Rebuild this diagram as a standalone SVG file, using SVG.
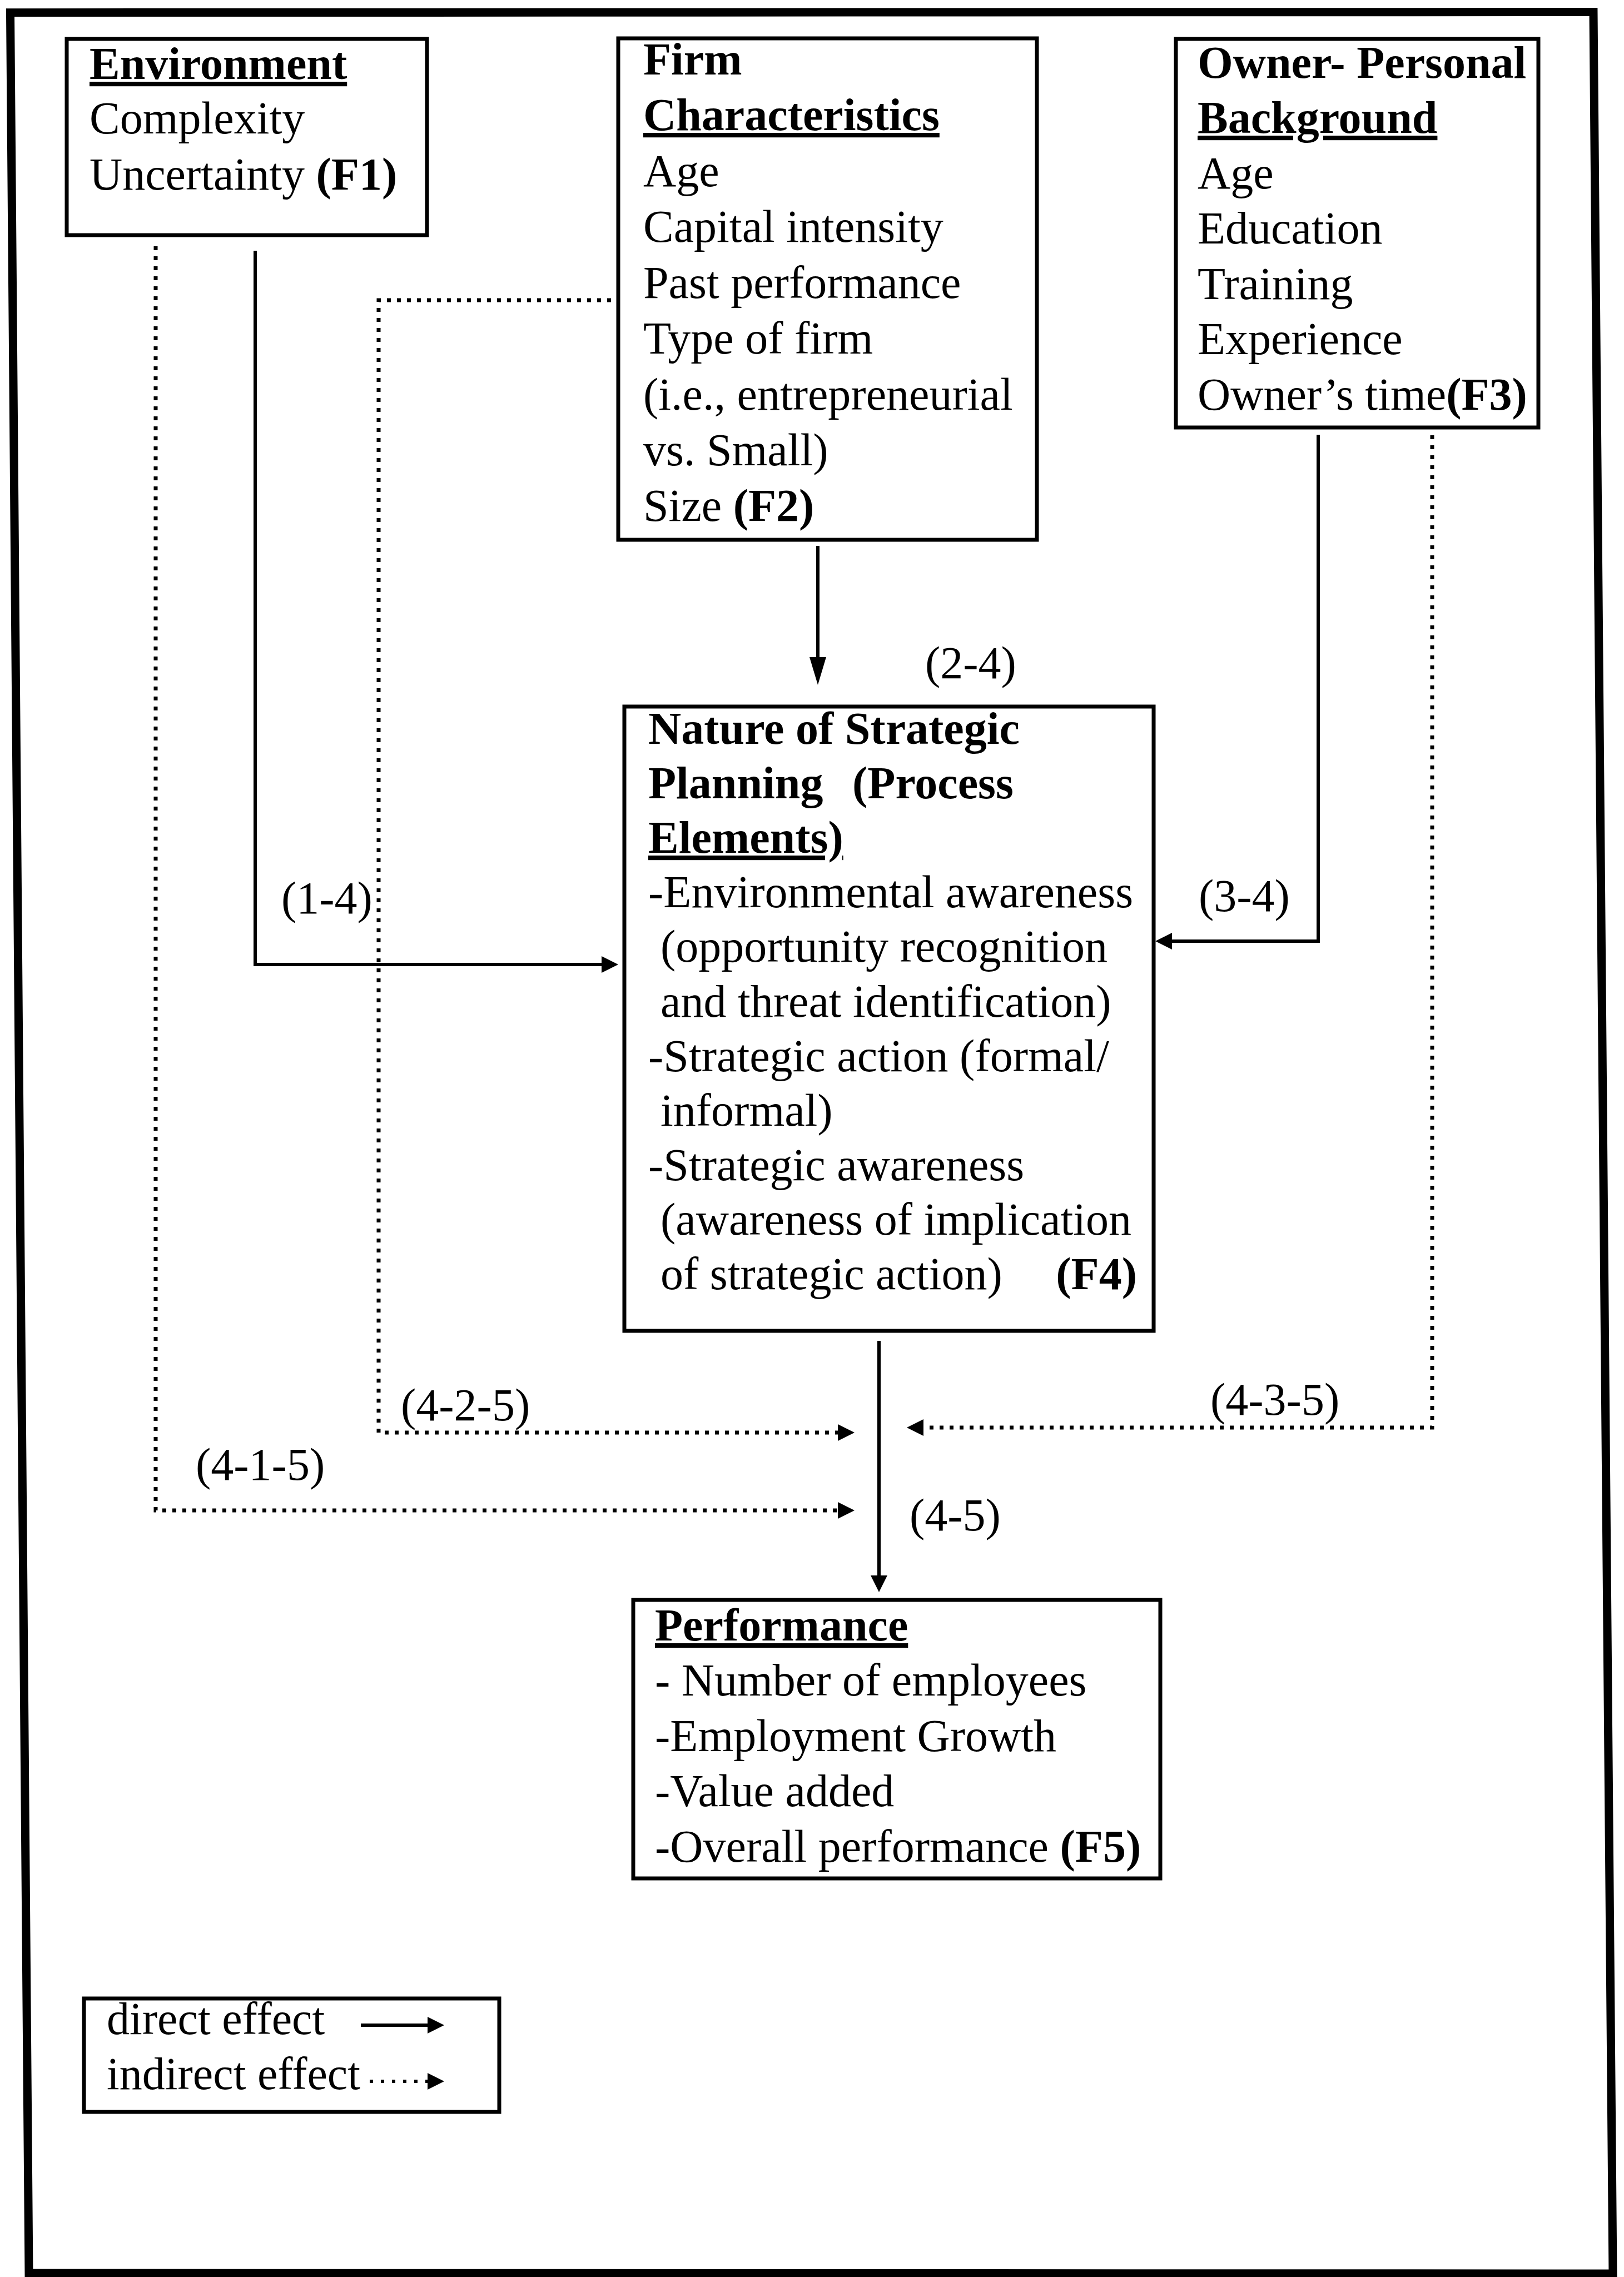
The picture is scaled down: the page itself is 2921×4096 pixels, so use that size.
<svg xmlns="http://www.w3.org/2000/svg" width="2921" height="4096" viewBox="0 0 2921 4096">
<style>
.t{font-family:"Liberation Serif","Times New Roman",serif;font-size:82px;fill:#000}
.b{font-weight:bold}
.u{text-decoration:underline}
.box{fill:none;stroke:#000;stroke-width:7}
.solid{fill:none;stroke:#000;stroke-width:6}
.dot{fill:none;stroke:#000;stroke-width:7;stroke-dasharray:7 11}
</style>
<defs>
<marker id="ah" markerUnits="userSpaceOnUse" markerWidth="32" markerHeight="32" refX="10" refY="15" orient="auto">
<path d="M0,0 L30,15 L0,30 z" fill="#000"/>
</marker>
<marker id="ahl" markerUnits="userSpaceOnUse" markerWidth="52" markerHeight="32" refX="10" refY="15" orient="auto">
<path d="M0,0 L50,15 L0,30 z" fill="#000"/>
</marker>
</defs>
<rect width="2921" height="4096" fill="#fff"/>
<polygon id="frame" points="18.5,22.7 2866,21.5 2901,4090 52,4089" fill="none" stroke="#000" stroke-width="15"/>

<g id="environment">
<rect class="box" x="120" y="70" width="648" height="353"/>
<text class="t b u" x="161" y="142">Environment</text>
<text class="t" x="161" y="240">Complexity</text>
<text class="t" x="161" y="341">Uncertainty <tspan class="b">(F1)</tspan></text>
</g>

<g id="firm">
<rect class="box" x="1112" y="69" width="753" height="902"/>
<text class="t b" x="1157" y="134">Firm</text>
<text class="t b u" x="1157" y="234">Characteristics</text>
<text class="t" x="1157" y="335">Age</text>
<text class="t" x="1157" y="435">Capital intensity</text>
<text class="t" x="1157" y="536">Past performance</text>
<text class="t" x="1157" y="636">Type of firm</text>
<text class="t" x="1157" y="737">(i.e., entrepreneurial</text>
<text class="t" x="1157" y="837">vs. Small)</text>
<text class="t" x="1157" y="937">Size <tspan class="b">(F2)</tspan></text>
</g>

<g id="owner">
<rect class="box" x="2115" y="70" width="652" height="699"/>
<text class="t b" x="2154" y="140">Owner- Personal</text>
<text class="t b u" x="2154" y="239">Background</text>
<text class="t" x="2154" y="339">Age</text>
<text class="t" x="2154" y="438">Education</text>
<text class="t" x="2154" y="538">Training</text>
<text class="t" x="2154" y="637">Experience</text>
<text class="t" x="2154" y="737">Owner’s time<tspan class="b">(F3)</tspan></text>
</g>

<g id="planning">
<rect class="box" x="1123" y="1271" width="952" height="1123"/>
<text class="t b" x="1166" y="1338">Nature of Strategic</text>
<text class="t b" x="1166" y="1436">Planning<tspan x="1533">(Process</tspan></text>
<text class="t b u" x="1166" y="1534">Elements)</text>
<text class="t" x="1166" y="1632">-Environmental awareness</text>
<text class="t" x="1188" y="1730">(opportunity recognition</text>
<text class="t" x="1188" y="1829">and threat identification)</text>
<text class="t" x="1166" y="1927">-Strategic action (formal/</text>
<text class="t" x="1188" y="2025">informal)</text>
<text class="t" x="1166" y="2123">-Strategic awareness</text>
<text class="t" x="1188" y="2221">(awareness of implication</text>
<text class="t" x="1188" y="2319">of strategic action)</text>
<text class="t b" x="2045" y="2319" text-anchor="end">(F4)</text>
</g>

<g id="performance">
<rect class="box" x="1139" y="2878" width="948" height="501"/>
<text class="t b u" x="1178" y="2951">Performance</text>
<text class="t" x="1178" y="3050">- Number of employees</text>
<text class="t" x="1178" y="3150">-Employment Growth</text>
<text class="t" x="1178" y="3249">-Value added</text>
<text class="t" x="1178" y="3349">-Overall performance <tspan class="b">(F5)</tspan></text>
</g>

<g id="legend">
<rect class="box" x="151" y="3595" width="747" height="204"/>
<text class="t" x="192" y="3659">direct effect</text>
<text class="t" x="192" y="3758">indirect effect</text>
<path class="solid" d="M649,3643 H779" marker-end="url(#ah)"/>
<path class="dot" style="stroke-width:6;stroke-dasharray:6 14" d="M665,3744 H779" marker-end="url(#ah)"/>
</g>

<g id="connectors">
<path class="solid" d="M459,451 V1735 H1092" marker-end="url(#ah)"/>
<path class="solid" d="M1471,982 V1192" marker-end="url(#ahl)"/>
<path class="solid" d="M2371,782 V1693 H2098" marker-end="url(#ah)"/>
<path class="solid" d="M1581,2412 V2844" marker-end="url(#ah)"/>
<path class="dot" d="M280,443 V2717 H1517" marker-end="url(#ah)"/>
<path class="dot" d="M1099,540 H681 V2577 H1517" marker-end="url(#ah)"/>
<path class="dot" d="M2576,783 V2568 H1651" marker-end="url(#ah)"/>
<text class="t" x="506" y="1643">(1-4)</text>
<text class="t" x="1664" y="1220">(2-4)</text>
<text class="t" x="2156" y="1639">(3-4)</text>
<text class="t" x="721" y="2555">(4-2-5)</text>
<text class="t" x="2177" y="2545">(4-3-5)</text>
<text class="t" x="352" y="2662">(4-1-5)</text>
<text class="t" x="1636" y="2753">(4-5)</text>
</g>
</svg>
